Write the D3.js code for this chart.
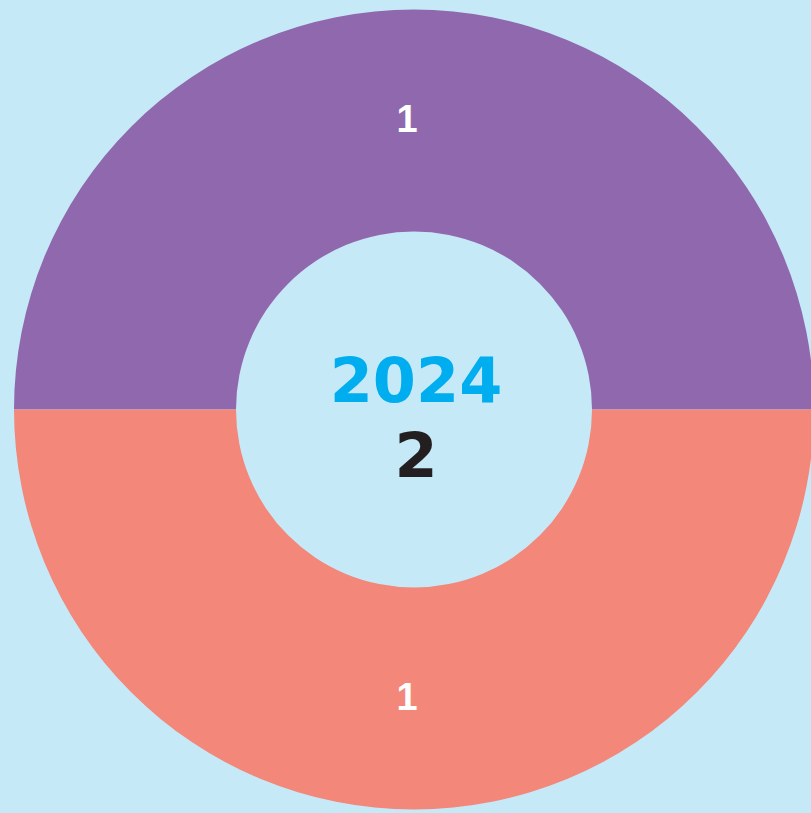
<!DOCTYPE html>
<html><head><meta charset="utf-8">
<script src="https://cdn.jsdelivr.net/npm/d3@7"></script>
<style>html,body{margin:0;padding:0;background:#C6E9F8;overflow:hidden}</style>
</head><body>
<svg id="chart" width="811" height="813"></svg>
<script>
const categories = ["A", "B"];
const values = [1, 1];
const colors = ["#9068AD", "#F3877A"];
const centerYear = "2024";
const centerTotal = "2";

const svg = d3.select("#chart");
svg.append("rect").attr("width", 811).attr("height", 813).attr("fill", "#C6E9F8");
const cx = 414, cy = 409.5, outerR = 400, innerR = 178;
const g = svg.append("g").attr("transform", `translate(${cx},${cy})`);

const pie = d3.pie().sort(null).value(d => d.v)
  .startAngle(-Math.PI / 2).endAngle(3 * Math.PI / 2);
const data = pie(categories.map((c, i) => ({ c, v: values[i] })));
const arc = d3.arc().innerRadius(innerR).outerRadius(outerR);
const color = d3.scaleOrdinal().domain(categories).range(colors);

g.selectAll("path").data(data).join("path")
  .attr("d", arc).attr("fill", d => color(d.data.c));

g.selectAll("text.lbl").data(data).join("text").attr("class", "lbl")
  .attr("transform", d => { const [x, y] = arc.centroid(d); return `translate(${x - 7},${y + 11})`; })
  .attr("text-anchor", "middle")
  .attr("font-family", "Liberation Sans, Arial, sans-serif").attr("font-weight", "bold")
  .attr("font-size", 38).attr("fill", "#ffffff")
  .text(d => d.data.v);

g.append("text").attr("x", 2).attr("y", -7.5)
  .attr("text-anchor", "middle").attr("font-family", "DejaVu Sans")
  .attr("font-weight", "bold").attr("font-size", 62).attr("fill", "#00AEEF")
  .text(centerYear);
g.append("text").attr("x", 2).attr("y", 67.5)
  .attr("text-anchor", "middle").attr("font-family", "DejaVu Sans")
  .attr("font-weight", "bold").attr("font-size", 62).attr("fill", "#231F20")
  .text(centerTotal);
</script>
</body></html>
